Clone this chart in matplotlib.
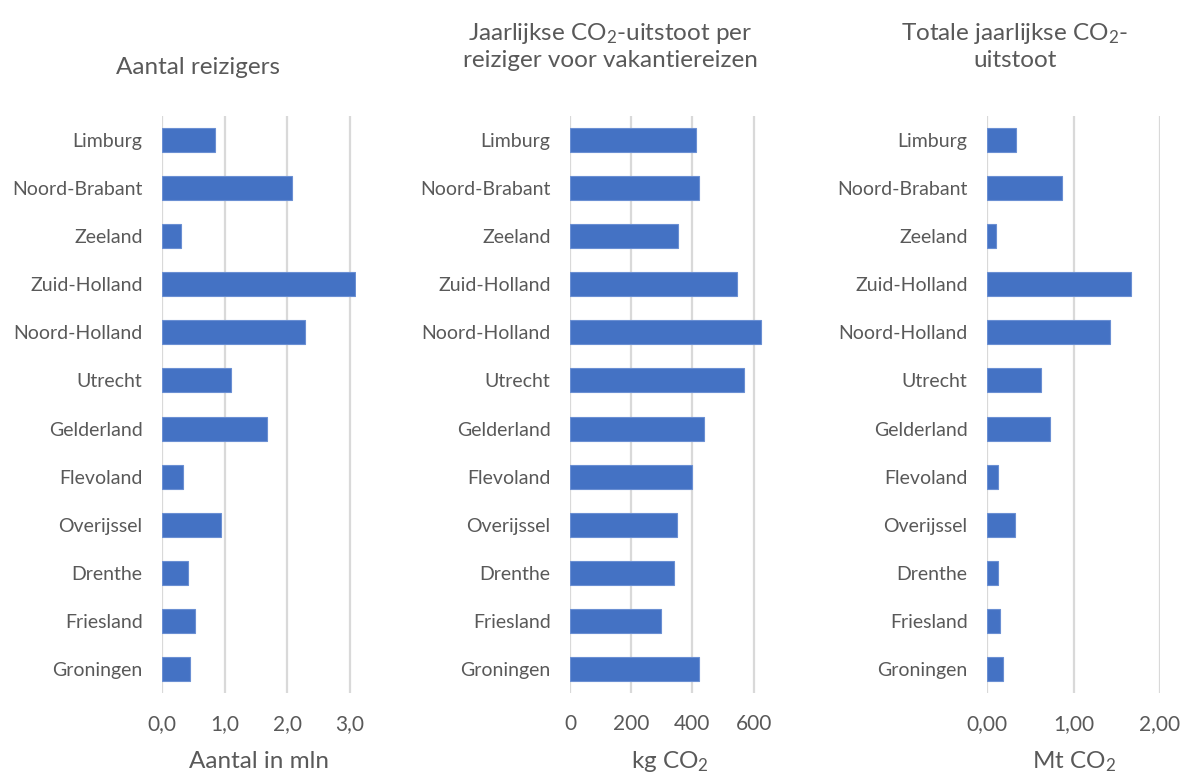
import matplotlib
matplotlib.use("Agg")
from matplotlib import pyplot as plt

# data, listed top to bottom as in the chart
provincies = ["Limburg", "Noord-Brabant", "Zeeland", "Zuid-Holland", "Noord-Holland",
              "Utrecht", "Gelderland", "Flevoland", "Overijssel", "Drenthe",
              "Friesland", "Groningen"]
reizigers_mln = [0.84, 2.07, 0.30, 3.08, 2.29, 1.11, 1.67, 0.33, 0.94, 0.41, 0.53, 0.44]
kg_per_reiziger = [411, 420, 352, 544, 623, 567, 437, 398, 349, 339, 296, 422]
mt_totaal = [0.34, 0.87, 0.10, 1.66, 1.42, 0.62, 0.73, 0.13, 0.32, 0.13, 0.15, 0.18]

BLUE = "#4472C4"
GREY = "#595959"
GRID = "#D9D9D9"

plt.rcParams['font.family'] = ['Lato', 'DejaVu Sans']
plt.rcParams['mathtext.fontset'] = 'custom'
plt.rcParams['mathtext.rm'] = 'Lato'
plt.rcParams['mathtext.default'] = 'regular'

W, H = 1184, 775
fig = plt.figure(figsize=(W / 100, H / 100), dpi=100)


def px_axes(left, right, top, bottom):
    return fig.add_axes([left / W, 1 - bottom / H, (right - left) / W, (bottom - top) / H])


def draw_panel(ax, values, xmax, ticks, ticklabels):
    y = list(range(len(provincies)))
    ax.barh(y, values, height=0.5, color=BLUE, edgecolor="#6A8FD3", linewidth=0.8, zorder=3)
    ax.set_ylim(len(provincies) - 0.5, -0.5)
    ax.set_xlim(0, xmax)
    ax.set_yticks(y)
    ax.set_yticklabels(provincies)
    ax.set_xticks(ticks)
    ax.set_xticklabels(ticklabels)
    ax.grid(axis="x", color=GRID, linewidth=1.6, zorder=0)
    for s in ax.spines.values():
        s.set_visible(False)
    ax.tick_params(length=0, colors=GREY)
    ax.tick_params(axis="y", labelsize=14, pad=14)
    ax.tick_params(axis="x", labelsize=15, pad=15)


ax1 = px_axes(162, 356, 116, 693)
draw_panel(ax1, reizigers_mln, 3.1, [0, 1, 2, 3], ["0,0", "1,0", "2,0", "3,0"])

ax2 = px_axes(570, 769, 116, 693)
draw_panel(ax2, kg_per_reiziger, 650, [0, 200, 400, 600], ["0", "200", "400", "600"])

ax3 = px_axes(987, 1160, 116, 693)
draw_panel(ax3, mt_totaal, 2.0, [0, 1, 2], ["0,00", "1,00", "2,00"])

# axis titles (placed by baseline, near the bottom edge as in the original)
for xc, label in [(259, "Aantal in mln"), (670, "kg CO$_2$"), (1074, "Mt CO$_2$")]:
    fig.text(xc / W, 1 - 768 / H, label, ha="center", va="baseline", fontsize=17.5, color=GREY)

fig.text(197.5 / W, 1 - 67 / H, "Aantal reizigers", ha="center", va="center", fontsize=17.5, color=GREY)
fig.text(610 / W, 1 - 46 / H, "Jaarlijkse CO$_2$-uitstoot per\nreiziger voor vakantiereizen",
         ha="center", va="center", fontsize=17.5, color=GREY, linespacing=1.25)
fig.text(1015 / W, 1 - 46 / H, "Totale jaarlijkse CO$_2$-\nuitstoot",
         ha="center", va="center", fontsize=17.5, color=GREY, linespacing=1.25)

fig.savefig("out.png", dpi=100)
